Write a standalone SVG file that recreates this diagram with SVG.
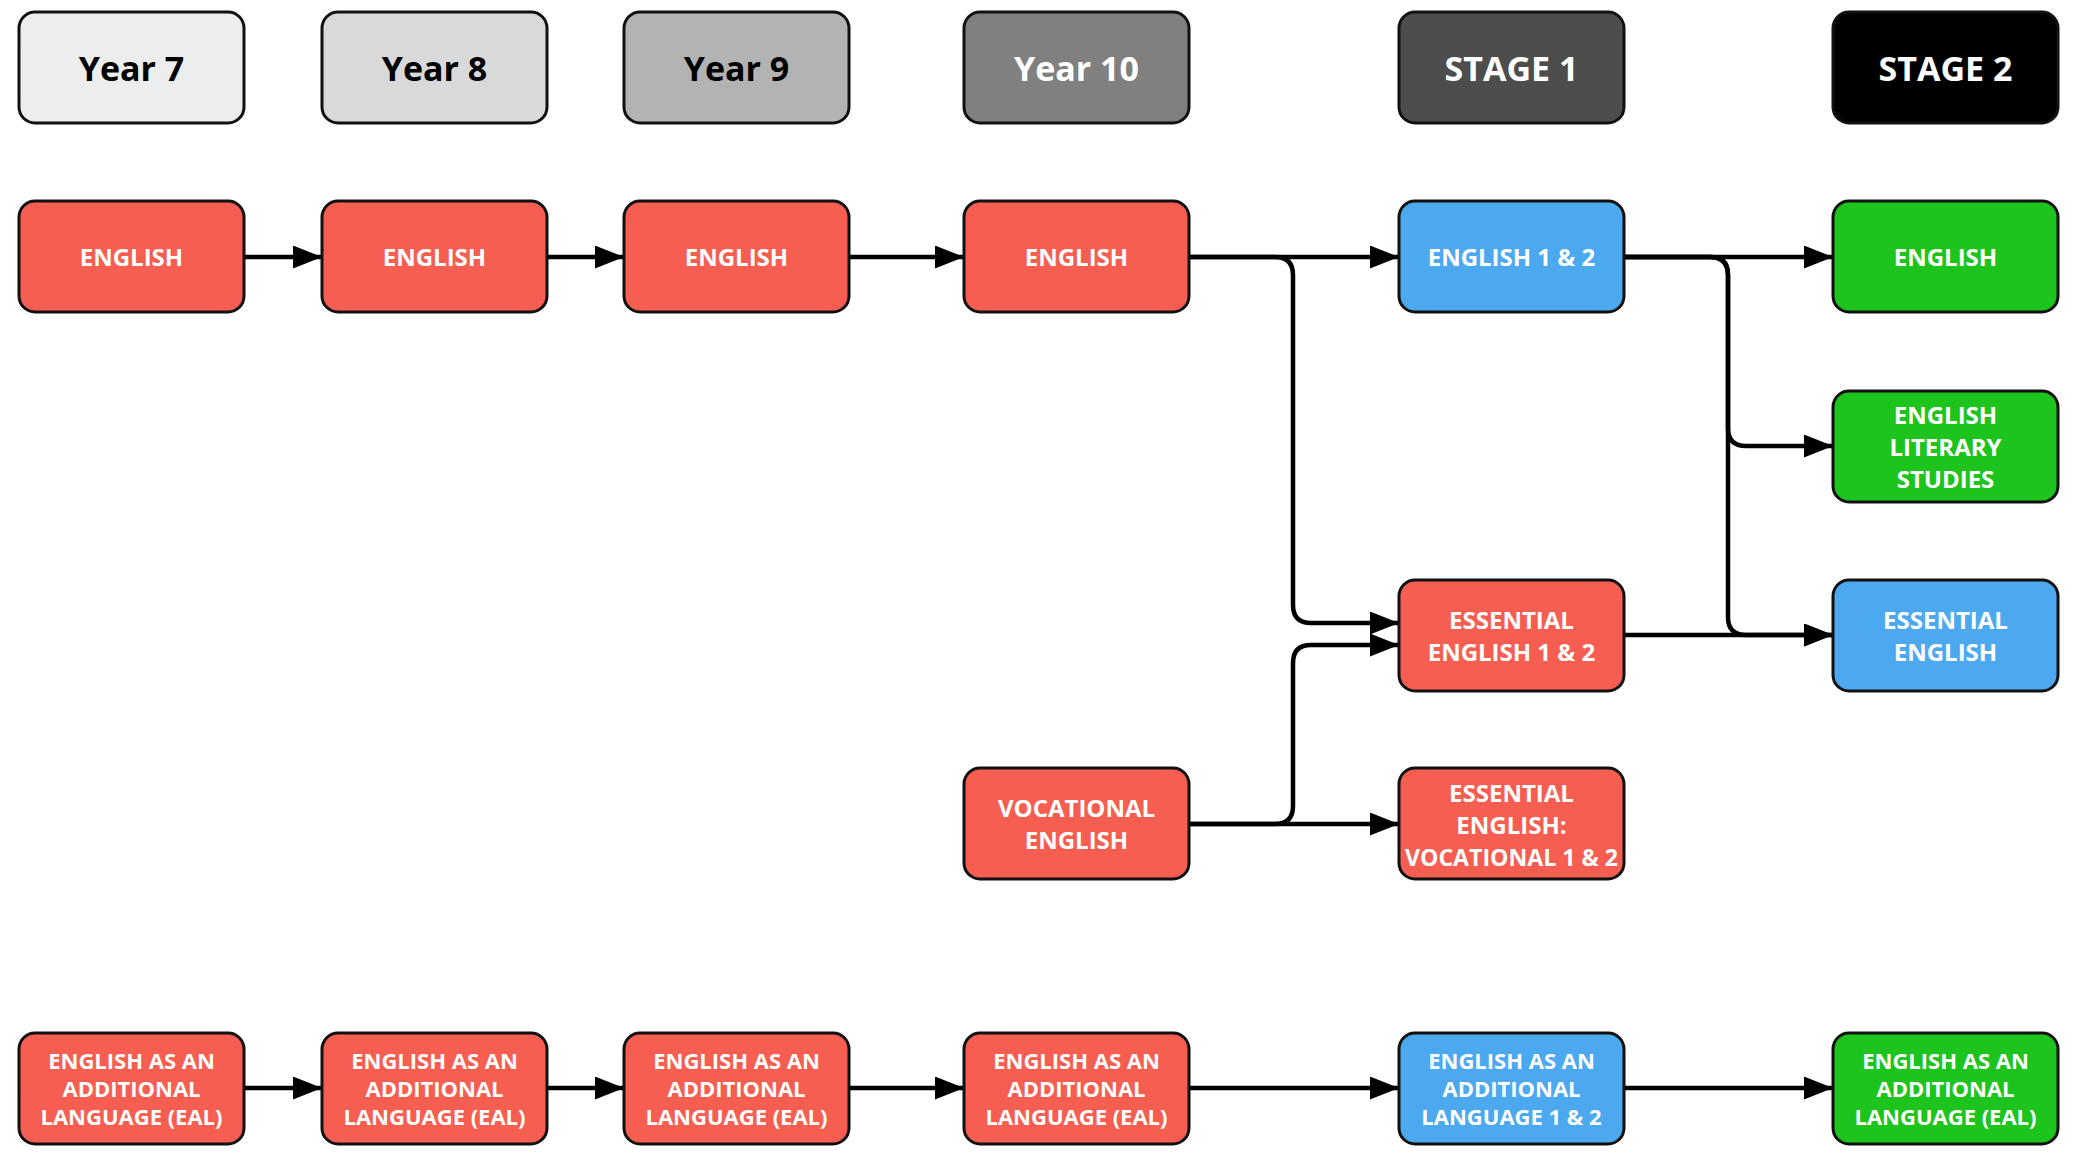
<svg xmlns="http://www.w3.org/2000/svg" width="2077" height="1159" viewBox="0 0 2077 1159">
  <defs>
    <marker id="arrow" markerUnits="userSpaceOnUse" markerWidth="29" markerHeight="23" viewBox="0 0 29 23" refX="28" refY="11.5" orient="auto">
      <path d="M0,0 L29,11.5 L0,23 Z" fill="#000"/>
    </marker>
    <style>
      .box { stroke: #111; stroke-width: 3; }
      .hdr { font-family: "Open Sans", "Liberation Sans", sans-serif; font-weight: 700; font-size: 34px; text-anchor: middle; }
      .lbl { font-family: "Open Sans", "Liberation Sans", sans-serif; font-weight: 700; font-size: 24px; fill: #fff; text-anchor: middle; }
      .sm { font-size: 22px; }
      .red { fill: #F55E50; }
      .blue { fill: #4CA9EF; }
      .green { fill: #1EC41E; }
      .conn { fill: none; stroke: #000; stroke-width: 4.5; }
    </style>
  </defs>
  <rect width="2077" height="1159" fill="#fff"/>

  <!-- column headers -->
  <g id="hdr-year7"><rect class="box" x="19" y="12" width="225" height="111" rx="16" fill="#EDEDED"/><text class="hdr" x="131.5" y="81" fill="#000">Year 7</text></g>
  <g id="hdr-year8"><rect class="box" x="322" y="12" width="225" height="111" rx="16" fill="#D9D9D9"/><text class="hdr" x="434.5" y="81" fill="#000">Year 8</text></g>
  <g id="hdr-year9"><rect class="box" x="624" y="12" width="225" height="111" rx="16" fill="#B3B3B3"/><text class="hdr" x="736.5" y="81" fill="#000">Year 9</text></g>
  <g id="hdr-year10"><rect class="box" x="964" y="12" width="225" height="111" rx="16" fill="#808080"/><text class="hdr" x="1076.5" y="81" fill="#fff">Year 10</text></g>
  <g id="hdr-stage1"><rect class="box" x="1399" y="12" width="225" height="111" rx="16" fill="#4D4D4D"/><text class="hdr" x="1511.5" y="81" fill="#fff">STAGE 1</text></g>
  <g id="hdr-stage2"><rect class="box" x="1833" y="12" width="225" height="111" rx="16" fill="#000"/><text class="hdr" x="1945.5" y="81" fill="#fff">STAGE 2</text></g>

  <!-- connectors -->
  <g id="connectors" class="conn">
    <path class="conn" d="M244,257 H321" marker-end="url(#arrow)"/>
    <path class="conn" d="M547,257 H623" marker-end="url(#arrow)"/>
    <path class="conn" d="M849,257 H963" marker-end="url(#arrow)"/>
    <path class="conn" d="M1189,257 H1398" marker-end="url(#arrow)"/>
    <path class="conn" d="M1189,257 H1275 Q1293,257 1293,275 V605 Q1293,623 1311,623 H1398" marker-end="url(#arrow)"/>
    <path class="conn" d="M1189,824 H1275 Q1293,824 1293,806 V663 Q1293,645 1311,645 H1398" marker-end="url(#arrow)"/>
    <path class="conn" d="M1189,824 H1398" marker-end="url(#arrow)"/>
    <path class="conn" d="M1624,257 H1832" marker-end="url(#arrow)"/>
    <path class="conn" d="M1624,257 H1710 Q1728,257 1728,275 V428 Q1728,446 1746,446 H1832" marker-end="url(#arrow)"/>
    <path class="conn" d="M1624,257 H1710 Q1728,257 1728,275 V617 Q1728,635 1746,635 H1832" marker-end="url(#arrow)"/>
    <path class="conn" d="M1624,635 H1832" marker-end="url(#arrow)"/>
    <path class="conn" d="M244,1088 H321" marker-end="url(#arrow)"/>
    <path class="conn" d="M547,1088 H623" marker-end="url(#arrow)"/>
    <path class="conn" d="M849,1088 H963" marker-end="url(#arrow)"/>
    <path class="conn" d="M1189,1088 H1398" marker-end="url(#arrow)"/>
    <path class="conn" d="M1624,1088 H1832" marker-end="url(#arrow)"/>
  </g>

  <!-- English pathway -->
  <g id="english-y7"><rect class="box red" x="19" y="201" width="225" height="111" rx="16"/><text class="lbl" x="131.5" y="266">ENGLISH</text></g>
  <g id="english-y8"><rect class="box red" x="322" y="201" width="225" height="111" rx="16"/><text class="lbl" x="434.5" y="266">ENGLISH</text></g>
  <g id="english-y9"><rect class="box red" x="624" y="201" width="225" height="111" rx="16"/><text class="lbl" x="736.5" y="266">ENGLISH</text></g>
  <g id="english-y10"><rect class="box red" x="964" y="201" width="225" height="111" rx="16"/><text class="lbl" x="1076.5" y="266">ENGLISH</text></g>
  <g id="english-s1"><rect class="box blue" x="1399" y="201" width="225" height="111" rx="16"/><text class="lbl" x="1511.5" y="266">ENGLISH 1 &amp; 2</text></g>
  <g id="english-s2"><rect class="box green" x="1833" y="201" width="225" height="111" rx="16"/><text class="lbl" x="1945.5" y="266">ENGLISH</text></g>

  <g id="literary-s2"><rect class="box green" x="1833" y="391" width="225" height="111" rx="16"/>
    <text class="lbl" x="1945.5"><tspan x="1945.5" y="424">ENGLISH</tspan><tspan x="1945.5" y="456">LITERARY</tspan><tspan x="1945.5" y="488">STUDIES</tspan></text></g>

  <g id="essential-s1"><rect class="box red" x="1399" y="580" width="225" height="111" rx="16"/>
    <text class="lbl" x="1511.5"><tspan x="1511.5" y="629">ESSENTIAL</tspan><tspan x="1511.5" y="661">ENGLISH 1 &amp; 2</tspan></text></g>
  <g id="essential-s2"><rect class="box blue" x="1833" y="580" width="225" height="111" rx="16"/>
    <text class="lbl" x="1945.5"><tspan x="1945.5" y="629">ESSENTIAL</tspan><tspan x="1945.5" y="661">ENGLISH</tspan></text></g>

  <g id="vocational-y10"><rect class="box red" x="964" y="768" width="225" height="111" rx="16"/>
    <text class="lbl" x="1076.5"><tspan x="1076.5" y="817">VOCATIONAL</tspan><tspan x="1076.5" y="849">ENGLISH</tspan></text></g>
  <g id="vocational-s1"><rect class="box red" x="1399" y="768" width="225" height="111" rx="16"/>
    <text class="lbl" x="1511.5"><tspan x="1511.5" y="802">ESSENTIAL</tspan><tspan x="1511.5" y="834">ENGLISH:</tspan><tspan x="1511.5" y="866" textLength="213" lengthAdjust="spacingAndGlyphs">VOCATIONAL 1 &amp; 2</tspan></text></g>

  <!-- EAL pathway -->
  <g id="eal-y7"><rect class="box red" x="19" y="1033" width="225" height="111" rx="16"/>
    <text class="lbl sm" x="131.5"><tspan x="131.5" y="1069">ENGLISH AS AN</tspan><tspan x="131.5" y="1097">ADDITIONAL</tspan><tspan x="131.5" y="1125">LANGUAGE (EAL)</tspan></text></g>
  <g id="eal-y8"><rect class="box red" x="322" y="1033" width="225" height="111" rx="16"/>
    <text class="lbl sm" x="434.5"><tspan x="434.5" y="1069">ENGLISH AS AN</tspan><tspan x="434.5" y="1097">ADDITIONAL</tspan><tspan x="434.5" y="1125">LANGUAGE (EAL)</tspan></text></g>
  <g id="eal-y9"><rect class="box red" x="624" y="1033" width="225" height="111" rx="16"/>
    <text class="lbl sm" x="736.5"><tspan x="736.5" y="1069">ENGLISH AS AN</tspan><tspan x="736.5" y="1097">ADDITIONAL</tspan><tspan x="736.5" y="1125">LANGUAGE (EAL)</tspan></text></g>
  <g id="eal-y10"><rect class="box red" x="964" y="1033" width="225" height="111" rx="16"/>
    <text class="lbl sm" x="1076.5"><tspan x="1076.5" y="1069">ENGLISH AS AN</tspan><tspan x="1076.5" y="1097">ADDITIONAL</tspan><tspan x="1076.5" y="1125">LANGUAGE (EAL)</tspan></text></g>
  <g id="eal-s1"><rect class="box blue" x="1399" y="1033" width="225" height="111" rx="16"/>
    <text class="lbl sm" x="1511.5"><tspan x="1511.5" y="1069">ENGLISH AS AN</tspan><tspan x="1511.5" y="1097">ADDITIONAL</tspan><tspan x="1511.5" y="1125">LANGUAGE 1 &amp; 2</tspan></text></g>
  <g id="eal-s2"><rect class="box green" x="1833" y="1033" width="225" height="111" rx="16"/>
    <text class="lbl sm" x="1945.5"><tspan x="1945.5" y="1069">ENGLISH AS AN</tspan><tspan x="1945.5" y="1097">ADDITIONAL</tspan><tspan x="1945.5" y="1125">LANGUAGE (EAL)</tspan></text></g>
</svg>
